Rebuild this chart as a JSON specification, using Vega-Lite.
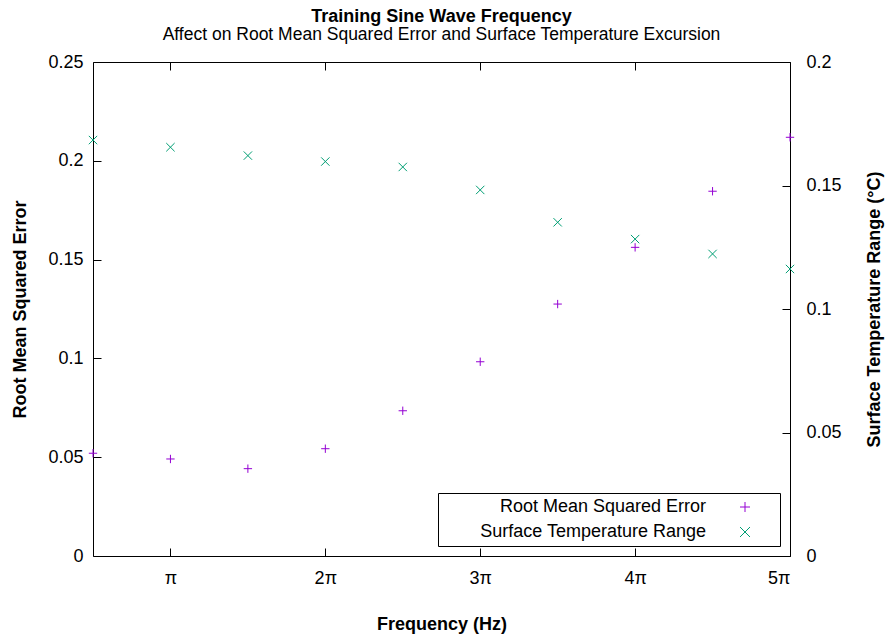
{
  "$schema": "https://vega.github.io/schema/vega-lite/v6.json",
  "width": 697,
  "height": 494,
  "autosize": {"type": "none"},
  "padding": {"left": 93, "top": 62, "right": 99, "bottom": 83},
  "background": "white",
  "title": {
    "text": "Training Sine Wave Frequency",
    "subtitle": "Affect on Root Mean Squared Error and Surface Temperature Excursion",
    "anchor": "middle",
    "font": "Liberation Sans",
    "fontSize": 18,
    "fontWeight": "bold",
    "color": "black",
    "subtitleFont": "Liberation Sans",
    "subtitleFontSize": 17.5,
    "subtitleColor": "black",
    "subtitlePadding": 0,
    "offset": 10
  },
  "config": {
    "font": "Liberation Sans",
    "view": {"stroke": "black", "strokeWidth": 1},
    "axis": {
      "grid": false,
      "domain": false,
      "tickSize": -8,
      "tickColor": "black",
      "tickWidth": 1,
      "labelFont": "Liberation Sans",
      "labelFontSize": 18,
      "labelColor": "black",
      "titleFont": "Liberation Sans",
      "titleFontSize": 18,
      "titleFontWeight": "bold",
      "titleColor": "black"
    }
  },
  "data": {
    "values": [
      {"freq": 0.5, "series": "Root Mean Squared Error", "value": 0.0520},
      {"freq": 1.0, "series": "Root Mean Squared Error", "value": 0.0491},
      {"freq": 1.5, "series": "Root Mean Squared Error", "value": 0.0442},
      {"freq": 2.0, "series": "Root Mean Squared Error", "value": 0.0543},
      {"freq": 2.5, "series": "Root Mean Squared Error", "value": 0.0735},
      {"freq": 3.0, "series": "Root Mean Squared Error", "value": 0.0983},
      {"freq": 3.5, "series": "Root Mean Squared Error", "value": 0.1275},
      {"freq": 4.0, "series": "Root Mean Squared Error", "value": 0.1562},
      {"freq": 4.5, "series": "Root Mean Squared Error", "value": 0.1846},
      {"freq": 5.0, "series": "Root Mean Squared Error", "value": 0.2119},
      {"freq": 0.5, "series": "Surface Temperature Range", "value": 0.1684},
      {"freq": 1.0, "series": "Surface Temperature Range", "value": 0.1655},
      {"freq": 1.5, "series": "Surface Temperature Range", "value": 0.1621},
      {"freq": 2.0, "series": "Surface Temperature Range", "value": 0.1597},
      {"freq": 2.5, "series": "Surface Temperature Range", "value": 0.1575},
      {"freq": 3.0, "series": "Surface Temperature Range", "value": 0.1482},
      {"freq": 3.5, "series": "Surface Temperature Range", "value": 0.1351},
      {"freq": 4.0, "series": "Surface Temperature Range", "value": 0.1283},
      {"freq": 4.5, "series": "Surface Temperature Range", "value": 0.1223},
      {"freq": 5.0, "series": "Surface Temperature Range", "value": 0.1162}
    ]
  },
  "layer": [
    {
      "transform": [{"filter": "datum.series === 'Root Mean Squared Error'"}],
      "mark": {"type": "point", "filled": false, "size": 70, "strokeWidth": 1, "opacity": 1},
      "encoding": {
        "x": {
          "field": "freq",
          "type": "quantitative",
          "scale": {"domain": [0.5, 5], "nice": false, "zero": false},
          "axis": {
            "orient": "bottom",
            "values": [1, 2, 3, 4, 5],
            "labelExpr": "datum.value === 1 ? 'π' : datum.value + 'π'",
            "labelPadding": 21,
            "title": "Frequency (Hz)",
            "titlePadding": 28
          }
        },
        "y": {
          "field": "value",
          "type": "quantitative",
          "scale": {"domain": [0, 0.25], "nice": false, "zero": true},
          "axis": {
            "orient": "left",
            "values": [0, 0.05, 0.1, 0.15, 0.2, 0.25],
            "format": "~g",
            "labelPadding": 18,
            "title": "Root Mean Squared Error",
            "titlePadding": 18
          }
        },
        "color": {
          "field": "series",
          "type": "nominal",
          "scale": {
            "domain": ["Root Mean Squared Error", "Surface Temperature Range"],
            "range": ["#9400d3", "#009e73"]
          },
          "legend": {
            "title": " ",
            "titleOrient": "right",
            "titlePadding": 23,
            "orient": "bottom-right",
            "offset": 10,
            "padding": 5,
            "rowPadding": 7,
            "strokeColor": "black",
            "fillColor": "white",
            "cornerRadius": 0,
            "labelFont": "Liberation Sans",
            "labelFontSize": 18,
            "labelColor": "black",
            "labelAlign": "right",
            "labelLimit": 400,
            "labelOffset": -48,
            "symbolOffset": 293,
            "symbolStrokeWidth": 1
          }
        },
        "shape": {
          "field": "series",
          "type": "nominal",
          "scale": {
            "domain": ["Root Mean Squared Error", "Surface Temperature Range"],
            "range": ["M-1,0H1M0,-1V1", "M-1,-1L1,1M-1,1L1,-1"]
          }
        }
      }
    },
    {
      "transform": [{"filter": "datum.series === 'Surface Temperature Range'"}],
      "mark": {"type": "point", "filled": false, "size": 70, "strokeWidth": 1, "opacity": 1},
      "encoding": {
        "x": {
          "field": "freq",
          "type": "quantitative",
          "scale": {"domain": [0.5, 5], "nice": false, "zero": false},
          "axis": {
            "orient": "top",
            "values": [1, 2, 3, 4, 5],
            "labels": false,
            "title": null
          }
        },
        "y": {
          "field": "value",
          "type": "quantitative",
          "scale": {"domain": [0, 0.2], "nice": false, "zero": true},
          "axis": {
            "orient": "right",
            "values": [0, 0.05, 0.1, 0.15, 0.2],
            "format": "~g",
            "labelPadding": 24,
            "title": "Surface Temperature Range (°C)",
            "titleAngle": -90,
            "titlePadding": 42
          }
        },
        "color": {"field": "series", "type": "nominal"},
        "shape": {"field": "series", "type": "nominal"}
      }
    }
  ],
  "resolve": {"scale": {"x": "independent", "y": "independent"}}
}
